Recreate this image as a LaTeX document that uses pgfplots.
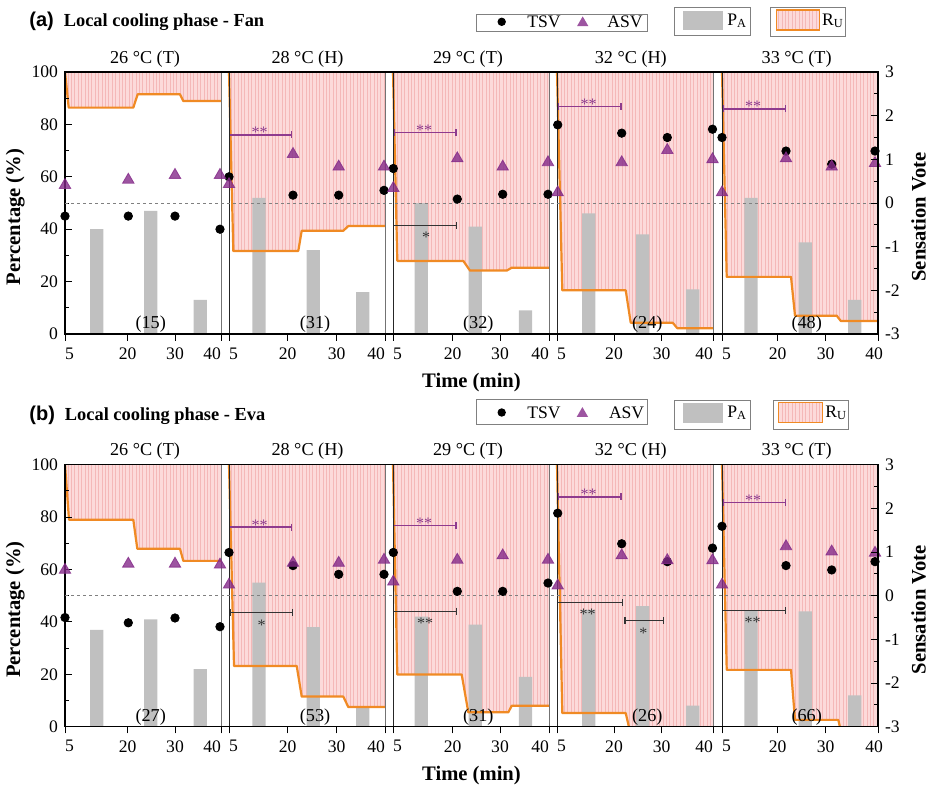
\documentclass[border=0pt]{standalone}
\usepackage{pgfplots}
\pgfplotsset{compat=1.18}
\usepackage{fontspec}
\setmainfont{Liberation Serif}
\newfontfamily\arialfont{Liberation Sans}
\usetikzlibrary{patterns.meta,arrows.meta}
\definecolor{pinkfill}{HTML}{FCDADA}
\definecolor{pinkline}{HTML}{F4B8B8}
\definecolor{barg}{HTML}{C0C0C0}
\definecolor{ruor}{HTML}{F08A24}
\definecolor{asvp}{HTML}{842A89}
\definecolor{brp}{HTML}{8E3A8E}
\definecolor{boxg}{HTML}{808080}
\newcommand\tkfont{\fontsize{8.8}{10}\selectfont}
\newcommand\ttfont{\fontsize{9.1}{11}\selectfont}
\newcommand\stfont{\fontsize{8}{8}\selectfont}
\pgfplotsset{
  panelbase/.style={scale only axis, width=406.5pt, height=131pt, xmin=0, xmax=813,
    clip mode=individual, axis on top,
    axis line style={line width=0.6pt},
    major tick length=3.3pt, minor tick length=2pt,
    tick style={black, line width=0.5pt},
    /pgf/number format/assume math mode=true,
    tick label style={font=\tkfont},
    label style={font=\bfseries\fontsize{10.3}{12}\selectfont}},
  pctaxis/.style={panelbase, ymin=0, ymax=100,
    ytick={0,20,...,100}, minor ytick={10,30,...,90},
    ytick pos=left, xtick pos=bottom, xtick align=outside, ytick align=inside,
    xtick={0,62.7,110,156,164,222.7,271.7,320,328,387.7,435,484,492,549,596.7,648,657,712.7,760.7,813},
    xticklabels={\rlap{5},20,30,\llap{40},\rlap{5},20,30,\llap{40},\rlap{5},20,30,\llap{40},\rlap{5},20,30,\llap{40},\rlap{5},20,30,\llap{40\kern-2.5pt}},
    xlabel={Time (min)}, ylabel={Percentage (\%)},
    ylabel style={at={(axis description cs:-0.0492,0.447)}, anchor=south, inner sep=0pt}},
  voteaxis/.style={panelbase, ymin=-3, ymax=3, axis y line*=right, axis x line=none,
    ytick={-3,...,3}, minor ytick={-2.5,-1.5,...,2.5}, tick align=inside,
    ylabel={Sensation Vote},
    ylabel style={at={(axis description cs:1.0406,0.447)}, anchor=north, inner sep=0pt}},
  rufill/.style={draw=none, fill=pinkfill, postaction={pattern={Lines[angle=90,distance=1.7pt,line width=0.35pt]}, pattern color=pinkline}},
  ruline/.style={ruor, line width=1.1pt, line join=round},
  pabar/.style={ybar, bar width=13.3, bar shift=0pt, fill=barg, draw=none},
  brk/.style={line width=0.65pt, arrows={Bar[width=3.5pt]-Bar[width=3.5pt]}},
  tsv/.style={only marks, mark=*, mark size=2.1pt, black},
  asv/.style={only marks, mark=triangle*, mark size=3.3pt, color=asvp, mark options={fill opacity=0.8, draw opacity=0.8}},
  zeroline/.style={gray, line width=0.45pt, dash pattern=on 1.6pt off 1.4pt},
}
\newcommand\separators{%
  \draw[black!55, line width=0.5pt] (axis cs:156,0) -- (axis cs:156,100);
  \draw[black!85, line width=0.5pt] (axis cs:164,0) -- (axis cs:164,100);
  \draw[black!55, line width=0.5pt] (axis cs:320,0) -- (axis cs:320,100);
  \draw[black!85, line width=0.5pt] (axis cs:328,0) -- (axis cs:328,100);
  \draw[black!55, line width=0.5pt] (axis cs:484,0) -- (axis cs:484,100);
  \draw[black!85, line width=0.5pt] (axis cs:492,0) -- (axis cs:492,100);
  \draw[black!55, line width=0.5pt] (axis cs:648,0) -- (axis cs:648,100);
  \draw[black!85, line width=0.5pt] (axis cs:657,0) -- (axis cs:657,100);
}
\newcommand\paneltitles[1]{%
  \node[font=\ttfont] at (axis cs:80,#1) {26 °C (T)};
  \node[font=\ttfont] at (axis cs:242.5,#1) {28 °C (H)};
  \node[font=\ttfont] at (axis cs:403,#1) {29 °C (T)};
  \node[font=\ttfont] at (axis cs:565.8,#1) {32 °C (H)};
  \node[font=\ttfont] at (axis cs:731.7,#1) {33 °C (T)};
}
\begin{document}
\begin{tikzpicture}
\path[use as bounding box] (0,0) rectangle (465.5pt,-393.5pt);

% ---------------- Panel (a) ----------------
\node[anchor=west, inner sep=0] at (14.5pt,-10.8pt) {{\arialfont\bfseries\fontsize{10}{12}\selectfont (a)}\hspace{5pt}{\bfseries\fontsize{9.2}{11}\selectfont Local cooling phase - Fan}};
\begin{axis}[pctaxis, at={(32.5pt,-167pt)}, anchor=south west]
% R_U filled regions
\addplot[rufill] coordinates {(0,100) (3.7,86.4) (68.3,86.4) (72.7,91.5) (115,91.5) (118.3,88.9) (156,88.9) (156,100)};
\addplot[rufill] coordinates {(164,100) (168.3,31.7) (233.3,31.7) (236.7,39.4) (278.3,39.4) (283.3,41.2) (320,41.2) (320,100)};
\addplot[rufill] coordinates {(328,100) (332.3,27.9) (398.3,27.9) (405,24.2) (441.7,24.2) (446.7,25.3) (484,25.3) (484,100)};
\addplot[rufill] coordinates {(492,100) (497.3,16.7) (560.7,16.7) (565.7,4.3) (607.7,4.3) (612.3,2.2) (648,2.2) (648,100)};
\addplot[rufill] coordinates {(657,100) (661.7,21.8) (726,21.8) (730,7.0) (771.7,7.0) (775.7,5.0) (813,5.0) (813,100)};
% P_A bars
\addplot[pabar] coordinates {(31.7,40) (85.8,47) (135.3,13) (194,52) (248.3,32) (297.7,16) (356.3,50) (410.3,41) (460.5,9) (523.7,46) (577.8,38) (627.7,17) (686,52) (740.3,35) (789.7,13)};
% R_U lines
\addplot[ruline] coordinates {(0,100) (3.7,86.4) (68.3,86.4) (72.7,91.5) (115,91.5) (118.3,88.9) (156,88.9)};
\addplot[ruline] coordinates {(164,100) (168.3,31.7) (233.3,31.7) (236.7,39.4) (278.3,39.4) (283.3,41.2) (320,41.2)};
\addplot[ruline] coordinates {(328,100) (332.3,27.9) (398.3,27.9) (405,24.2) (441.7,24.2) (446.7,25.3) (484,25.3)};
\addplot[ruline] coordinates {(492,100) (497.3,16.7) (560.7,16.7) (565.7,4.3) (607.7,4.3) (612.3,2.2) (648,2.2)};
\addplot[ruline] coordinates {(657,100) (661.7,21.8) (726,21.8) (730,7.0) (771.7,7.0) (775.7,5.0) (813,5.0)};
% significance brackets
\addplot[brk, brp] coordinates {(164,76) (227.3,76)};
\addplot[brk, brp] coordinates {(328.3,76.9) (391.7,76.9)};
\addplot[brk, brp] coordinates {(492.7,86.8) (556.7,86.8)};
\addplot[brk, brp] coordinates {(657.3,85.9) (721,85.9)};
\addplot[brk, black!80] coordinates {(328,41.5) (392,41.5)};
\node[brp, font=\stfont, anchor=base, yshift=-1.5pt] at (axis cs:194.5,76) {**};
\node[brp, font=\stfont, anchor=base, yshift=-1.5pt] at (axis cs:359,76.9) {**};
\node[brp, font=\stfont, anchor=base, yshift=-1.5pt] at (axis cs:523.7,86.8) {**};
\node[brp, font=\stfont, anchor=base, yshift=-1.5pt] at (axis cs:688,85.9) {**};
\node[black!80, font=\stfont, anchor=base, yshift=-8.5pt] at (axis cs:361,41.5) {*};
\separators
\paneltitles{104.8}
\node[font=\ttfont] at (axis cs:85.7,3.6) {(15)};
\node[font=\ttfont] at (axis cs:250,3.6) {(31)};
\node[font=\ttfont] at (axis cs:413.3,3.6) {(32)};
\node[font=\ttfont] at (axis cs:582.3,3.6) {(24)};
\node[font=\ttfont] at (axis cs:741.7,3.6) {(48)};
\end{axis}
\begin{axis}[voteaxis, at={(32.5pt,-167pt)}, anchor=south west]
\addplot[zeroline] coordinates {(0,0) (813,0)};
\addplot[tsv] coordinates {(0,-0.3) (63.3,-0.3) (110,-0.3) (155,-0.6)
  (164,0.6) (228,0.18) (273.7,0.18) (319,0.29)
  (328.3,0.79) (392.3,0.09) (437.7,0.2) (483,0.2)
  (492.7,1.79) (556.7,1.6) (602.3,1.5) (647.5,1.69)
  (657,1.5) (721,1.19) (766.7,0.89) (810,1.19)};
\addplot[asv] coordinates {(0,0.41) (63.3,0.53) (110,0.64) (155,0.64)
  (164,0.43) (228,1.12) (273.7,0.83) (319,0.83)
  (328.3,0.34) (392.3,1.02) (437.7,0.83) (483,0.93)
  (492.7,0.24) (556.7,0.93) (602.3,1.21) (647.5,1.0)
  (657,0.24) (721,1.02) (766.7,0.83) (810,0.91)};
\end{axis}
% legend (a)
\draw[boxg, line width=0.5pt] (238pt,-7.3pt) rectangle (323.5pt,-15.85pt);
\fill[black] (250.85pt,-10.9pt) circle (2.1pt);
\node[font=\tkfont] at (272pt,-10.9pt) {TSV};
\fill[asvp, opacity=0.8] (291.35pt,-8.2pt) -- (294.2pt,-13.1pt) -- (288.5pt,-13.1pt) -- cycle;
\node[font=\tkfont] at (312.5pt,-10.9pt) {ASV};
\draw[boxg, line width=0.5pt] (337.15pt,-3.65pt) rectangle (375pt,-17.85pt);
\fill[barg] (341.35pt,-5.5pt) rectangle (361.65pt,-15pt);
\node[font=\tkfont, anchor=west, inner sep=0] at (363.5pt,-10.5pt) {P\textsubscript{A}};
\draw[boxg, line width=0.5pt] (385pt,-3.5pt) rectangle (422.85pt,-18pt);
\path[fill=pinkfill, postaction={pattern={Lines[angle=90,distance=1.7pt,line width=0.35pt]}, pattern color=pinkline}] (388.35pt,-5pt) rectangle (409.65pt,-15pt);
\draw[ruor, line width=0.6pt] (388.35pt,-5pt) rectangle (409.65pt,-15pt);
\node[font=\tkfont, anchor=west, inner sep=0] at (410.8pt,-10.5pt) {R\textsubscript{U}};

% ---------------- Panel (b) ----------------
\node[anchor=west, inner sep=0] at (14.5pt,-207.5pt) {{\arialfont\bfseries\fontsize{10}{12}\selectfont (b)}\hspace{5pt}{\bfseries\fontsize{9.2}{11}\selectfont Local cooling phase - Eva}};
\begin{axis}[pctaxis, at={(32.5pt,-363.35pt)}, anchor=south west]
\addplot[rufill] coordinates {(0,100) (4,79) (68.3,79) (72.3,67.9) (115,67.9) (118.3,63.3) (156,63.3) (156,100)};
\addplot[rufill] coordinates {(164,100) (169,23.2) (231.7,23.2) (236.7,11.5) (278.3,11.5) (283.3,7.5) (320,7.5) (320,100)};
\addplot[rufill] coordinates {(328,100) (332.3,19.9) (396.7,19.9) (403.3,5.5) (443.3,5.5) (446.7,8.0) (484,8.0) (484,100)};
\addplot[rufill] coordinates {(492,100) (497.3,5.2) (560.7,5.2) (565.7,-3) (648,-3) (648,100)};
\addplot[rufill] coordinates {(657,100) (661.7,21.7) (726,21.7) (730,2.6) (773.3,2.6) (776.7,-3) (813,-3) (813,100)};
\addplot[pabar] coordinates {(31.7,37) (85.8,41) (135.3,22) (194,55) (248.3,38) (297.7,7.6) (356.3,42) (410.3,39) (460.5,19) (523.7,44.6) (577.8,46) (627.7,8) (686,44.5) (740.3,44) (789.7,12)};
\addplot[ruline] coordinates {(0,100) (4,79) (68.3,79) (72.3,67.9) (115,67.9) (118.3,63.3) (156,63.3)};
\addplot[ruline] coordinates {(164,100) (169,23.2) (231.7,23.2) (236.7,11.5) (278.3,11.5) (283.3,7.5) (320,7.5)};
\addplot[ruline] coordinates {(328,100) (332.3,19.9) (396.7,19.9) (403.3,5.5) (443.3,5.5) (446.7,8.0) (484,8.0)};
\addplot[ruline] coordinates {(492,100) (497.3,5.2) (560.7,5.2) (565.7,-3) (648,-3)};
\addplot[ruline] coordinates {(657,100) (661.7,21.7) (726,21.7) (730,2.6) (773.3,2.6) (776.7,-3) (813,-3)};
\addplot[brk, brp] coordinates {(164,76.2) (227.3,76.2)};
\addplot[brk, brp] coordinates {(328,76.8) (391.7,76.8)};
\addplot[brk, brp] coordinates {(492.7,87.7) (556.7,87.7)};
\addplot[brk, brp] coordinates {(657.3,85.6) (721,85.6)};
\addplot[brk, black!80] coordinates {(164.7,43.6) (228.3,43.6)};
\addplot[brk, black!80] coordinates {(328,44.1) (392.3,44.1)};
\addplot[brk, black!80] coordinates {(492,47.4) (558,47.4)};
\addplot[brk, black!80] coordinates {(559.3,40.5) (599.3,40.5)};
\addplot[brk, black!80] coordinates {(657,44.3) (721,44.3)};
\node[brp, font=\stfont, anchor=base, yshift=-1.5pt] at (axis cs:194.5,76.2) {**};
\node[brp, font=\stfont, anchor=base, yshift=-1.5pt] at (axis cs:359,76.8) {**};
\node[brp, font=\stfont, anchor=base, yshift=-1.5pt] at (axis cs:523.7,87.7) {**};
\node[brp, font=\stfont, anchor=base, yshift=-1.5pt] at (axis cs:688,85.6) {**};
\node[black!80, font=\stfont, anchor=base, yshift=-9pt] at (axis cs:196.7,43.6) {*};
\node[black!80, font=\stfont, anchor=base, yshift=-8.5pt] at (axis cs:360,44.1) {**};
\node[black!80, font=\stfont, anchor=base, yshift=-8.5pt] at (axis cs:522.7,47.4) {**};
\node[black!80, font=\stfont, anchor=base, yshift=-8.8pt] at (axis cs:578.3,40.5) {*};
\node[black!80, font=\stfont, anchor=base, yshift=-8.5pt] at (axis cs:687.7,44.3) {**};
\separators
\paneltitles{105.1}
\node[font=\ttfont] at (axis cs:85.7,3.8) {(27)};
\node[font=\ttfont] at (axis cs:250,3.8) {(53)};
\node[font=\ttfont] at (axis cs:413.3,3.8) {(31)};
\node[font=\ttfont] at (axis cs:582.3,3.8) {(26)};
\node[font=\ttfont] at (axis cs:741.7,3.8) {(66)};
\end{axis}
\begin{axis}[voteaxis, at={(32.5pt,-363.35pt)}, anchor=south west]
\addplot[zeroline] coordinates {(0,0) (813,0)};
\addplot[tsv] coordinates {(0,-0.5) (63.3,-0.62) (110,-0.51) (155,-0.71)
  (164,0.99) (228,0.69) (273.7,0.49) (319,0.49)
  (328.3,0.99) (392.3,0.1) (437.7,0.1) (483,0.29)
  (492.7,1.89) (556.7,1.19) (602.3,0.78) (647.5,1.09)
  (657,1.59) (721,0.69) (766.7,0.59) (810,0.78)};
\addplot[asv] coordinates {(0,0.59) (63.3,0.73) (110,0.73) (155,0.71)
  (164,0.25) (228,0.75) (273.7,0.75) (319,0.82)
  (328.3,0.32) (392.3,0.82) (437.7,0.92) (483,0.82)
  (492.7,0.23) (556.7,0.92) (602.3,0.81) (647.5,0.81)
  (657,0.25) (721,1.13) (766.7,1.01) (810,0.98)};
\end{axis}
% legend (b)
\draw[boxg, line width=0.5pt] (238pt,-199.5pt) rectangle (323.5pt,-212.15pt);
\fill[black] (250.85pt,-206.25pt) circle (2.1pt);
\node[font=\tkfont] at (272pt,-206.25pt) {TSV};
\fill[asvp, opacity=0.8] (291.2pt,-203.55pt) -- (294.05pt,-208.45pt) -- (288.35pt,-208.45pt) -- cycle;
\node[font=\tkfont] at (313.3pt,-206.25pt) {ASV};
\draw[boxg, line width=0.5pt] (337pt,-200pt) rectangle (375.35pt,-214.65pt);
\fill[barg] (341.35pt,-201.65pt) rectangle (361.65pt,-211.65pt);
\node[font=\tkfont, anchor=west, inner sep=0] at (363.5pt,-206.5pt) {P\textsubscript{A}};
\draw[boxg, line width=0.5pt] (386.5pt,-200pt) rectangle (424pt,-214.65pt);
\path[fill=pinkfill, postaction={pattern={Lines[angle=90,distance=1.7pt,line width=0.35pt]}, pattern color=pinkline}] (389.15pt,-201.15pt) rectangle (411.35pt,-211.15pt);
\draw[ruor, line width=0.6pt] (389.15pt,-201.15pt) rectangle (411.35pt,-211.15pt);
\node[font=\tkfont, anchor=west, inner sep=0] at (412.5pt,-206.5pt) {R\textsubscript{U}};
\end{tikzpicture}
\end{document}
